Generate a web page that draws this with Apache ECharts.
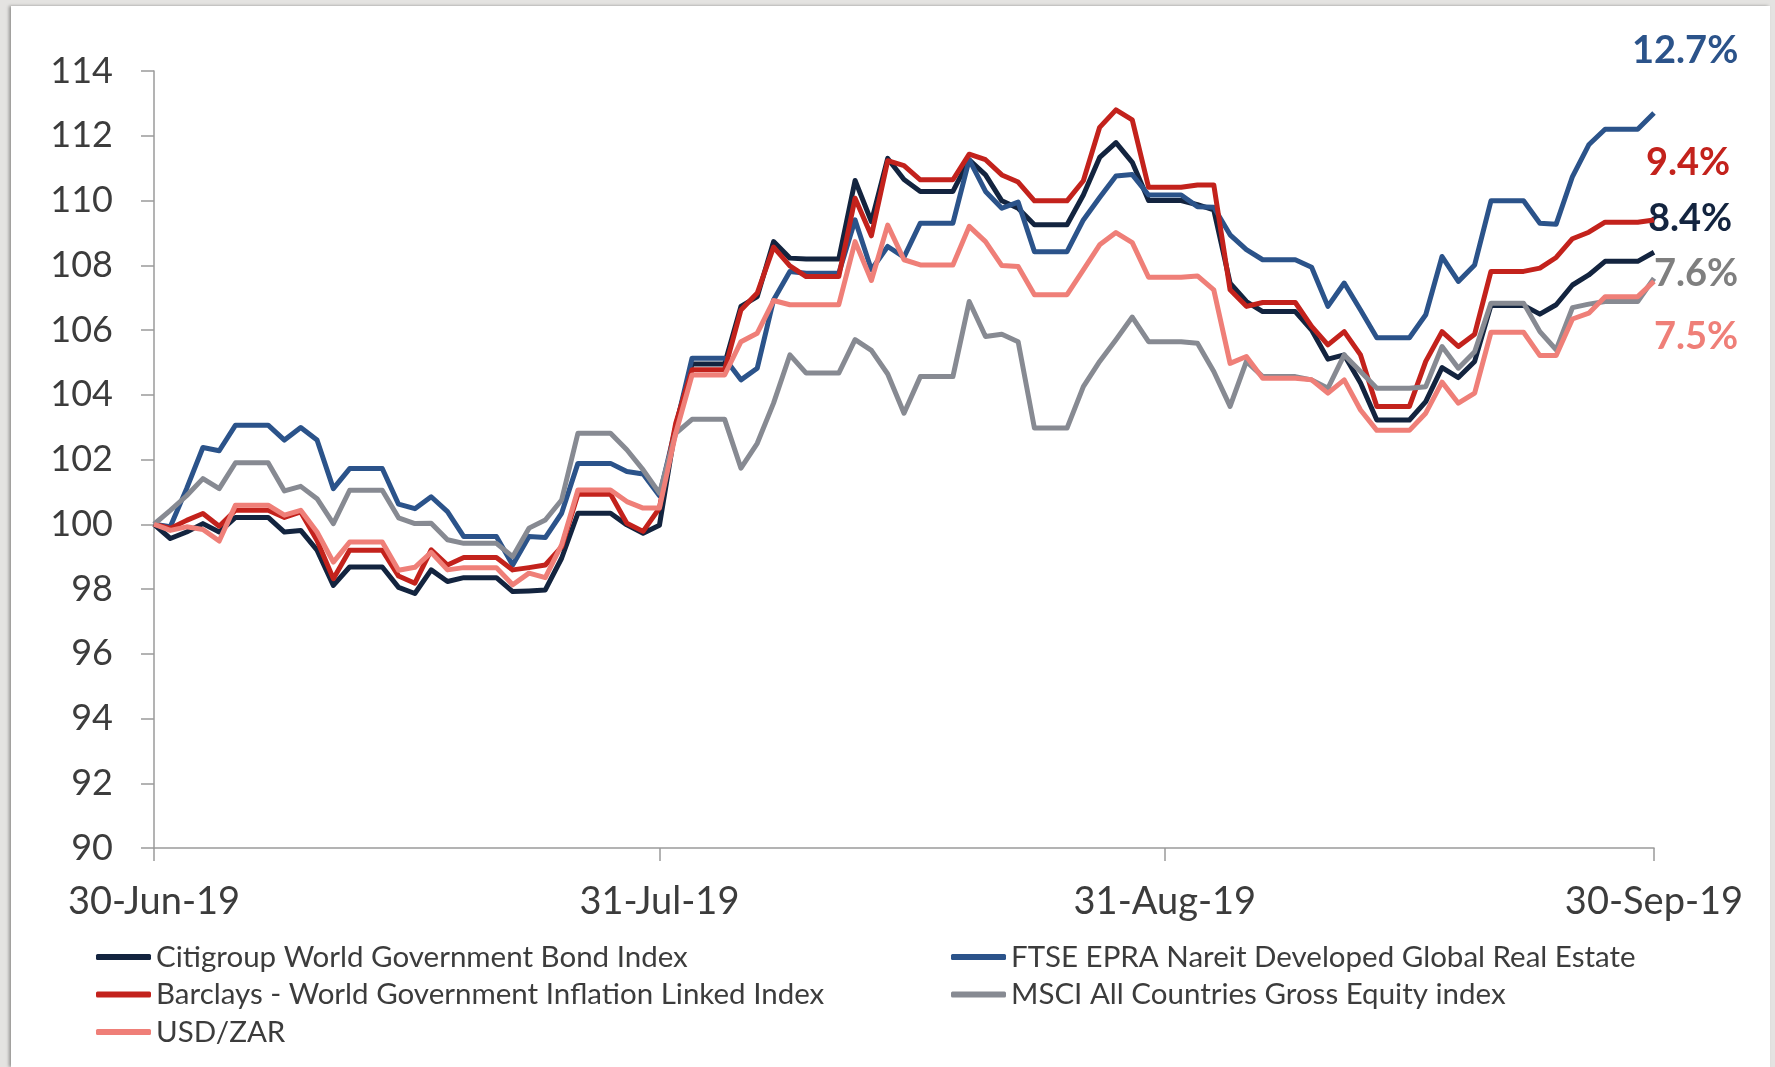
<!DOCTYPE html>
<html>
<head>
    <meta charset="utf-8">
    <title>Index performance Q3 2019</title>
    <script src="https://cdn.jsdelivr.net/npm/echarts@6/dist/echarts.min.js"></script>
    <style>
        html, body { margin: 0; padding: 0; background: #e4e3e1; }
        #card { position: absolute; left: 11px; top: 6px; right: 5px; bottom: 0; background: #fff;
                box-shadow: -2px 0 3px rgba(0, 0, 0, 0.35); }
        #chart1 { position: absolute; left: 0; top: 0; width: 1775px; height: 1067px; }
    </style>
</head>
<body>
<div id="card"></div>
<div id="chart1"></div>
<script type="text/javascript">
    // 日期: 30-Jun-19 .. 30-Sep-19, 每天一个点 (周末沿用周五的值)
    var months = ['Jan', 'Feb', 'Mar', 'Apr', 'May', 'Jun', 'Jul', 'Aug', 'Sep', 'Oct', 'Nov', 'Dec'];
    var dates = [];
    for (var i = 0; i < 93; i++) {
        var d = new Date(2019, 5, 30 + i);
        dates.push(d.getDate() + '-' + months[d.getMonth()] + '-19');
    }
    var tickLabels = ['30-Jun-19', '31-Jul-19', '31-Aug-19', '30-Sep-19'];

    var names = ['Citigroup World Government Bond Index',
        'FTSE EPRA Nareit Developed Global Real Estate',
        'Barclays - World Government Inflation Linked Index',
        'MSCI All Countries Gross Equity index',
        'USD/ZAR'];

    var citigroup = [100, 99.56, 99.76, 100.02, 99.76, 100.21, 100.21, 100.21, 99.76, 99.81,
        99.2, 98.11, 98.68, 98.68, 98.68, 98.05, 97.86, 98.59, 98.23, 98.35,
        98.35, 98.35, 97.92, 97.94, 97.97, 98.95, 100.34, 100.34, 100.34, 99.98,
        99.72, 99.97, 103.02, 104.95, 104.95, 104.95, 106.73, 107.03, 108.73, 108.22,
        108.19, 108.19, 108.19, 110.62, 109.35, 111.3, 110.65, 110.28, 110.28, 110.28,
        111.26, 110.79, 109.99, 109.76, 109.25, 109.25, 109.25, 110.17, 111.33, 111.79,
        111.18, 110.0, 110.0, 110.0, 109.87, 109.71, 107.45, 106.88, 106.57, 106.57,
        106.57, 106.0, 105.1, 105.23, 104.36, 103.22, 103.22, 103.22, 103.79, 104.84,
        104.53, 105.03, 106.76, 106.76, 106.76, 106.49, 106.78, 107.39, 107.7, 108.12,
        108.12, 108.12, 108.4];
    var ftse = [100, 99.92, 101.1, 102.37, 102.27, 103.06, 103.06, 103.06, 102.6, 102.99,
        102.6, 101.1, 101.72, 101.72, 101.72, 100.62, 100.48, 100.85, 100.39, 99.62,
        99.62, 99.62, 98.74, 99.62, 99.59, 100.34, 101.88, 101.88, 101.88, 101.63,
        101.55, 100.88, 103.0, 105.13, 105.13, 105.13, 104.46, 104.82, 106.93, 107.81,
        107.75, 107.75, 107.75, 109.4, 107.86, 108.58, 108.25, 109.3, 109.3, 109.3,
        111.26, 110.28, 109.76, 109.95, 108.42, 108.42, 108.42, 109.4, 110.09, 110.76,
        110.8, 110.17, 110.17, 110.17, 109.81, 109.79, 108.94, 108.48, 108.17, 108.17,
        108.17, 107.94, 106.73, 107.45, 106.62, 105.76, 105.76, 105.76, 106.47, 108.27,
        107.5, 108.01, 109.99, 109.99, 109.99, 109.3, 109.27, 110.74, 111.72, 112.2,
        112.2, 112.2, 112.7];
    var barclays = [100, 99.87, 100.12, 100.33, 99.94, 100.43, 100.43, 100.43, 100.21, 100.38,
        99.5, 98.32, 99.2, 99.2, 99.2, 98.4, 98.18, 99.21, 98.74, 98.97,
        98.97, 98.97, 98.59, 98.66, 98.74, 99.3, 100.93, 100.93, 100.93, 100.03,
        99.78, 100.5, 103.12, 104.77, 104.77, 104.77, 106.62, 107.14, 108.56, 107.98,
        107.65, 107.65, 107.65, 110.07, 108.91, 111.23, 111.08, 110.64, 110.64, 110.64,
        111.43, 111.26, 110.79, 110.57, 109.99, 109.99, 109.99, 110.61, 112.26, 112.8,
        112.49, 110.41, 110.41, 110.41, 110.48, 110.48, 107.24, 106.73, 106.85, 106.85,
        106.85, 106.11, 105.54, 105.95, 105.23, 103.64, 103.64, 103.64, 105.03, 105.95,
        105.49, 105.87, 107.81, 107.81, 107.81, 107.91, 108.24, 108.82, 109.02, 109.33,
        109.33, 109.33, 109.4];
    var msci = [100, 100.43, 100.88, 101.41, 101.1, 101.9, 101.9, 101.9, 101.03, 101.17,
        100.79, 100.02, 101.05, 101.05, 101.05, 100.2, 100.02, 100.03, 99.52, 99.41,
        99.41, 99.41, 99.0, 99.88, 100.13, 100.75, 102.81, 102.81, 102.81, 102.3,
        101.68, 100.96, 102.81, 103.24, 103.24, 103.24, 101.73, 102.5, 103.74, 105.23,
        104.67, 104.67, 104.67, 105.7, 105.37, 104.64, 103.43, 104.56, 104.56, 104.56,
        106.88, 105.8, 105.87, 105.64, 102.97, 102.97, 102.97, 104.25, 105.03, 105.7,
        106.4, 105.64, 105.64, 105.64, 105.59, 104.72, 103.64, 105.03, 104.56, 104.56,
        104.56, 104.46, 104.2, 105.23, 104.72, 104.2, 104.2, 104.2, 104.25, 105.49,
        104.82, 105.33, 106.83, 106.83, 106.83, 105.95, 105.39, 106.69, 106.8, 106.88,
        106.88, 106.88, 107.6];
    var usdzar = [100, 99.81, 99.92, 99.84, 99.48, 100.59, 100.59, 100.59, 100.28, 100.43,
        99.76, 98.83, 99.45, 99.45, 99.45, 98.58, 98.67, 99.13, 98.59, 98.66,
        98.66, 98.66, 98.13, 98.49, 98.35, 99.36, 101.06, 101.06, 101.06, 100.7,
        100.5, 100.5, 102.81, 104.61, 104.61, 104.61, 105.64, 105.9, 106.91, 106.78,
        106.78, 106.78, 106.78, 108.73, 107.53, 109.24, 108.17, 108.01, 108.01, 108.01,
        109.2, 108.73, 107.99, 107.96, 107.09, 107.09, 107.09, 107.86, 108.63, 109.01,
        108.7, 107.63, 107.63, 107.63, 107.67, 107.24, 104.97, 105.18, 104.51, 104.51,
        104.51, 104.46, 104.05, 104.46, 103.53, 102.9, 102.9, 102.9, 103.43, 104.39,
        103.74, 104.05, 105.93, 105.93, 105.93, 105.21, 105.21, 106.34, 106.52, 107.03,
        107.03, 107.03, 107.5];

    var seriesData = [citigroup, ftse, barclays, msci, usdzar];
    var colors = ['#13243f', '#2b538a', '#c3221c', '#878a92', '#ef7f78'];
    var labelColors = ['#13243f', '#2b538a', '#c3221c', '#7f7f7f', '#ef7f78'];
    // 末端百分比标签的偏移
    var labelOffsets = [[-6, -34], [-22, -62], [-8, -57], [0, -4], [0, 55]];

    var font = 'Lato, "Open Sans", sans-serif';
    var axisColor = '#9a9a9a';
    var showTick = function (index, value) { return tickLabels.indexOf(value) >= 0; };
    var legendStyle = {
        orient: 'vertical', top: 942, itemGap: 7.5, padding: 0,
        icon: 'roundRect', itemWidth: 55, itemHeight: 6,
        textStyle: { fontFamily: font, fontSize: 29.5, color: '#3c3c3c' }
    };

    var myChart1 = echarts.init(document.getElementById('chart1'));
    myChart1.setOption({
        animation: false,
        grid: { left: 154, right: 121, top: 71, bottom: 219, outerBoundsMode: 'none' },
        legend: [
            Object.assign({ data: [names[0], names[2], names[4]], left: 96 }, legendStyle),
            Object.assign({ data: [names[1], names[3]], left: 951 }, legendStyle)
        ],
        xAxis: {
            type: 'category',
            boundaryGap: false,
            data: dates,
            axisLine: { lineStyle: { color: axisColor, width: 1.5 } },
            axisTick: { interval: showTick, length: 13, lineStyle: { color: axisColor, width: 1.5 } },
            axisLabel: { interval: showTick, margin: 35, fontFamily: font, fontSize: 38, color: '#3c3c3c' },
            splitLine: { show: false }
        },
        yAxis: {
            type: 'value',
            min: 90, max: 114, interval: 2,
            axisLine: { show: true, lineStyle: { color: axisColor, width: 1.5 } },
            axisTick: { show: true, length: 13, lineStyle: { color: axisColor, width: 1.5 } },
            axisLabel: { margin: 41, fontFamily: font, fontSize: 36, color: '#3c3c3c' },
            splitLine: { show: false }
        },
        series: seriesData.map(function (data, k) {
            return {
                name: names[k],
                type: 'line',
                data: data,
                showSymbol: false,
                color: colors[k],
                lineStyle: { width: 5, color: colors[k], join: 'round' },
                z: 2 + k,
                endLabel: {
                    show: true,
                    formatter: function (p) { return (p.value - 100).toFixed(1) + '%'; },
                    color: labelColors[k],
                    fontFamily: font, fontWeight: 'bold', fontSize: 38,
                    distance: 0,
                    offset: labelOffsets[k]
                }
            };
        })
    });
</script>
</body>
</html>
